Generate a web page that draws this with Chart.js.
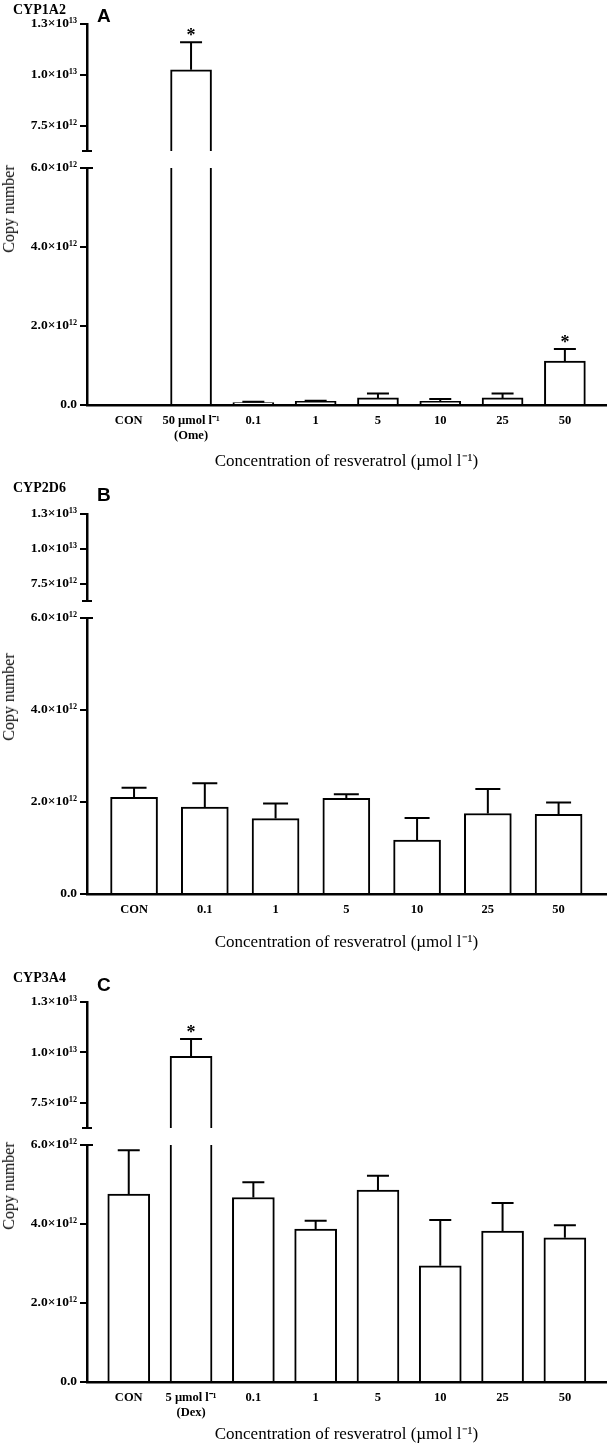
<!DOCTYPE html>
<html><head><meta charset="utf-8">
<script src="https://cdn.jsdelivr.net/npm/chart.js@4.4.1/dist/chart.umd.min.js"></script>
<style>
html,body{margin:0;padding:0;background:#fff;width:609px;height:1445px;overflow:hidden;position:relative}
canvas{position:absolute;left:0}
.t{position:absolute;color:#000;white-space:nowrap;line-height:1}
.gene{font-family:"Liberation Serif";font-weight:bold;font-size:14px;transform:translateY(-50%)}
.letter{font-family:"Liberation Sans";font-weight:bold;font-size:19px;transform:translateY(-50%)}
.ylab{font-family:"Liberation Serif";font-size:16px;transform:translate(-50%,-50%) rotate(-90deg)}
</style></head><body>
<script>
// ---------- data ----------
const catsA = ['CON', ['50 µmol l⁻¹', '(Ome)'], '0.1', '1', '5', '10', '25', '50'];
const meanA = [0, 1.025e13, 0.06e12, 0.09e12, 0.18e12, 0.09e12, 0.18e12, 1.11e12];
const errA  = [0, 1.35e12, 0.02e12, 0.02e12, 0.11e12, 0.06e12, 0.11e12, 0.31e12];
const sigA  = ['', '*', '', '', '', '', '', '*'];

const catsB = ['CON', '0.1', '1', '5', '10', '25', '50'];
const meanB = [2.10e12, 1.89e12, 1.64e12, 2.08e12, 1.17e12, 1.75e12, 1.73e12];
const errB  = [0.21e12, 0.52e12, 0.33e12, 0.09e12, 0.48e12, 0.53e12, 0.26e12];
const sigB  = ['', '', '', '', '', '', ''];

const catsC = ['CON', ['5 µmol l⁻¹', '(Dex)'], '0.1', '1', '5', '10', '25', '50'];
const meanC = [4.76e12, 9.80e12, 4.67e12, 3.87e12, 4.86e12, 2.94e12, 3.82e12, 3.65e12];
const errC  = [1.11e12, 0.87e12, 0.39e12, 0.21e12, 0.36e12, 1.16e12, 0.71e12, 0.32e12];
const sigC  = ['', '*', '', '', '', '', '', ''];

const upperTicks = [7.5e12, 1.0e13, 1.25e13];
const upperTickLabels = ['7.5×10¹²', '1.0×10¹³', '1.3×10¹³'];
const lowerTicks = [0, 2e12, 4e12, 6e12];
const lowerTickLabels = ['0.0', '2.0×10¹²', '4.0×10¹²', '6.0×10¹²'];
const upperRange = [6.25e12, 1.25e13];
const lowerRange = [0, 6e12];

const xTitle = 'Concentration of resveratrol (µmol l⁻¹)';
const yTitle = 'Copy number';

// ---------- layout ----------
const W = 609, AXIS_LEFT = 87, AXIS_RIGHT = 606, PAD = 12, XH = 80;
const panels = [
  {letter:'A', gene:'CYP1A2', cats:catsA, mean:meanA, err:errA, sig:sigA, xMin:-0.67, xMax:7.66, bar:41, cap:11,
   upTop:24, upBot:151, lowTop:168, lowBot:405, titleY:462, geneY:10, letterY:15, ylabY:209},
  {letter:'B', gene:'CYP2D6', cats:catsB, mean:meanB, err:errB, sig:sigB, xMin:-0.665, xMax:6.67, bar:47, cap:12.5,
   upTop:514, upBot:601, lowTop:618, lowBot:894, titleY:943, geneY:488, letterY:494, ylabY:697},
  {letter:'C', gene:'CYP3A4', cats:catsC, mean:meanC, err:errC, sig:sigC, xMin:-0.67, xMax:7.66, bar:42, cap:11,
   upTop:1002, upBot:1128, lowTop:1145, lowBot:1382, titleY:1435, geneY:978, letterY:984, ylabY:1186},
];

Chart.defaults.font.family = '"Liberation Serif", "Times New Roman", serif';
Chart.defaults.color = '#000';

function addCanvas(top, height) {
  const c = document.createElement('canvas');
  c.width = W; c.height = Math.round(height);
  c.style.top = Math.round(top) + 'px';
  document.body.appendChild(c);
  return c;
}
function addText(cls, txt, x, y) {
  const d = document.createElement('div');
  d.className = 't ' + cls; d.textContent = txt;
  d.style.left = x + 'px'; d.style.top = y + 'px';
  document.body.appendChild(d);
}

function errPlugin(p) {
  return {
    id: 'errbars',
    afterDatasetsDraw(chart) {
      const {ctx, chartArea: a} = chart;
      const xs = chart.scales.x, ys = chart.scales.y;
      ctx.save();
      ctx.beginPath(); ctx.rect(a.left, a.top - 1, a.right - a.left, a.bottom - a.top + 1); ctx.clip();
      ctx.strokeStyle = '#000'; ctx.lineWidth = 2; ctx.fillStyle = '#000';
      p.mean.forEach((m, i) => {
        const x = xs.getPixelForValue(i);
        const yb = ys.getPixelForValue(m);
        const yt = ys.getPixelForValue(m + p.err[i]);
        if (p.err[i] > 0) {
          ctx.beginPath(); ctx.moveTo(x, yb); ctx.lineTo(x, yt);
          ctx.moveTo(x - p.cap, yt); ctx.lineTo(x + p.cap, yt); ctx.stroke();
        }
        if (p.sig[i]) {
          ctx.font = 'bold 18px "Liberation Serif"';
          ctx.textAlign = 'center'; ctx.textBaseline = 'alphabetic';
          ctx.fillText(p.sig[i], x, yt - 1);
        }
      });
      ctx.restore();
    }
  };
}
function capPlugin(where) {
  return {
    id: 'cap',
    afterDraw(chart) {
      const {ctx, chartArea: a} = chart;
      ctx.save(); ctx.strokeStyle = '#000'; ctx.lineWidth = 2;
      ctx.beginPath();
      if (where === 'bottom') { ctx.moveTo(a.left - 5, a.bottom); ctx.lineTo(a.left + 5, a.bottom); }
      else { ctx.moveTo(a.left, a.top); ctx.lineTo(a.left + 6, a.top); }
      ctx.stroke(); ctx.restore();
    }
  };
}

function yScale(range, ticks, labels) {
  return {
    min: range[0], max: range[1],
    afterBuildTicks: s => { s.ticks = ticks.map(v => ({value: v})); },
    afterFit: s => { s.width = AXIS_LEFT; },
    ticks: {callback: (v, i) => labels[i], font: {size: 13.5, weight: 'bold'}, color: '#000', padding: 3},
    grid: {display: true, drawOnChartArea: false, drawTicks: true, tickLength: 7, color: '#000', lineWidth: 2},
    border: {display: true, color: '#000', width: 2.5}
  };
}

function dataset(p) {
  return {
    data: p.mean.map((v, i) => ({x: i, y: v})),
    backgroundColor: '#fff', borderColor: '#000', borderWidth: 2,
    barThickness: p.bar, clip: 0, borderSkipped: 'start'
  };
}

panels.forEach(p => {
  // upper segment
  const cu = addCanvas(p.upTop - PAD, (p.upBot - p.upTop) + 2 * PAD);
  new Chart(cu, {
    type: 'bar',
    data: {datasets: [dataset(p)]},
    options: {
      responsive: false, animation: false, events: [],
      layout: {padding: {top: PAD, bottom: PAD, left: 0, right: W - AXIS_RIGHT}},
      plugins: {legend: {display: false}, tooltip: {enabled: false}},
      scales: {
        x: {type: 'linear', display: false, offset: false, min: p.xMin, max: p.xMax},
        y: yScale(upperRange, upperTicks, upperTickLabels)
      }
    },
    plugins: [errPlugin(p), capPlugin('bottom')]
  });
  // lower segment
  const cl = addCanvas(p.lowTop - PAD, (p.lowBot - p.lowTop) + PAD + XH);
  const tb = XH - 10.2 - (p.titleY - p.lowBot);
  new Chart(cl, {
    type: 'bar',
    data: {datasets: [dataset(p)]},
    options: {
      responsive: false, animation: false, events: [],
      layout: {padding: {top: PAD, bottom: 0, left: 0, right: W - AXIS_RIGHT}},
      plugins: {legend: {display: false}, tooltip: {enabled: false}},
      scales: {
        x: {
          type: 'linear', offset: false, min: p.xMin, max: p.xMax,
          afterBuildTicks: s => { s.ticks = p.cats.map((_, i) => ({value: i})); },
          afterFit: s => { s.height = XH; },
          ticks: {callback: (v, i) => p.cats[i], autoSkip: false, maxRotation: 0, minRotation: 0, padding: 8,
                  font: {size: 12.5, weight: 'bold'}, color: '#000'},
          grid: {display: false, drawTicks: false},
          border: {display: true, color: '#000', width: 2.5},
          title: {display: true, text: xTitle, font: {size: 17}, color: '#000', padding: {top: 0, bottom: tb}}
        },
        y: yScale(lowerRange, lowerTicks, lowerTickLabels)
      }
    },
    plugins: [errPlugin(p), capPlugin('top')]
  });
  addText('gene', p.gene, 13, p.geneY);
  addText('letter', p.letter, 97, p.letterY);
  addText('ylab', yTitle, 9, p.ylabY);
});
</script>
</body></html>
